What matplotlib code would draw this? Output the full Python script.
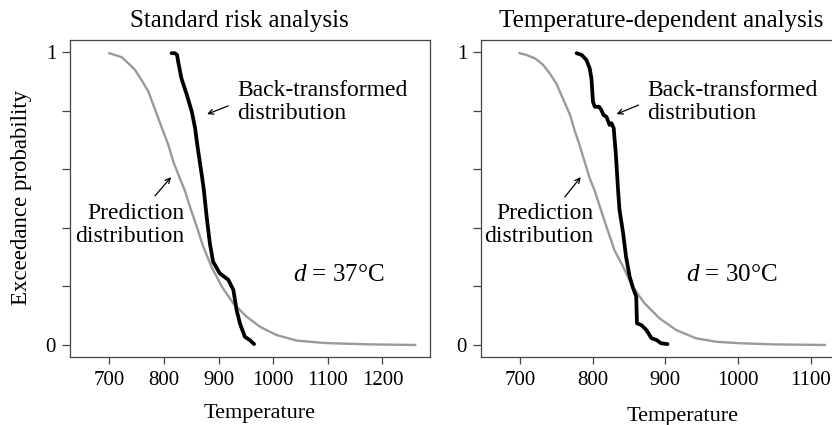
import matplotlib
matplotlib.use("Agg")
import matplotlib.pyplot as plt

plt.rcParams['font.family'] = ['Liberation Serif', 'DejaVu Serif']
plt.rcParams['mathtext.fontset'] = 'custom'
plt.rcParams['mathtext.rm'] = 'Liberation Serif'
plt.rcParams['mathtext.it'] = 'Liberation Serif:italic'

# ---- data ----
left_pred_x = [698, 710, 723, 735, 747, 759, 771.5, 780.6, 789.6, 798.8, 808, 817, 829, 838.5,
               847.6, 860, 872, 887, 906, 927, 951, 976, 1006, 1043, 1085, 1104, 1180, 1262]
left_pred_y = [0.997, 0.99, 0.982, 0.961, 0.939, 0.904, 0.865, 0.819, 0.774, 0.728, 0.683, 0.626,
               0.569, 0.526, 0.472, 0.404, 0.335, 0.267, 0.199, 0.142, 0.097, 0.062, 0.034, 0.015,
               0.008, 0.006, 0.002, 0.0]
left_back_x = [814, 820, 824, 826, 832, 842, 851, 857, 861, 866, 870, 873, 878, 884, 890, 902, 918,
               927, 933, 939, 948, 957, 965]
left_back_y = [0.996, 0.996, 0.99, 0.967, 0.91, 0.853, 0.796, 0.74, 0.683, 0.62, 0.57, 0.529, 0.44,
               0.347, 0.284, 0.245, 0.222, 0.188, 0.119, 0.074, 0.028, 0.017, 0.003]

right_pred_x = [698, 709, 721, 732, 741, 750, 759, 769, 775, 782, 789, 796, 803, 810, 819, 830, 842,
                855, 871.5, 892, 915, 942, 970, 1002, 1050, 1121]
right_pred_y = [0.997, 0.99, 0.978, 0.956, 0.927, 0.893, 0.842, 0.785, 0.734, 0.683, 0.626, 0.569,
                0.526, 0.472, 0.404, 0.324, 0.267, 0.199, 0.142, 0.091, 0.051, 0.023, 0.011, 0.006,
                0.002, 0.0]
right_back_x = [778, 785, 791.5, 796, 798.4, 800.5, 803, 809, 812, 815, 819, 823.4, 826, 829, 832,
                835, 837, 842, 846, 851, 855, 860, 861, 867, 874, 881, 888, 894, 903]
right_back_y = [0.996, 0.99, 0.973, 0.944, 0.91, 0.83, 0.813, 0.813, 0.802, 0.785, 0.779, 0.751,
                0.757, 0.74, 0.65, 0.529, 0.461, 0.381, 0.301, 0.233, 0.199, 0.165, 0.074, 0.068,
                0.051, 0.023, 0.017, 0.006, 0.003]

titles = ["Standard risk analysis", "Temperature-dependent analysis"]
d_labels = ["$d$ = 37°C", "$d$ = 30°C"]
left_xticks = [700, 800, 900, 1000, 1100, 1200]
right_xticks = [700, 800, 900, 1000, 1100]
yticks = [0, 0.2, 0.4, 0.6, 0.8, 1.0]
ytick_labels = ["0", "", "", "", "", "1"]

W, H = 832, 425
fig = plt.figure(figsize=(W / 100, H / 100), dpi=100)

def axrect(x0, y0, x1, y1):
    return [x0 / W, 1 - y1 / H, (x1 - x0) / W, (y1 - y0) / H]

def fpos(x, y):
    return (x / W, 1 - y / H)

spine_col = '#444444'
grey = '#9a9a9a'

axL = fig.add_axes(axrect(70, 40, 430, 357))
axR = fig.add_axes(axrect(481, 40, 842, 357))

panels = [
    (axL, left_pred_x, left_pred_y, left_back_x, left_back_y, left_xticks, (628, 1287)),
    (axR, right_pred_x, right_pred_y, right_back_x, right_back_y, right_xticks, (646.5, 1143)),
]

for ax, px, py, bx, by, xt, xl in panels:
    ax.plot(px, py, color=grey, lw=1.7, solid_joinstyle='round', solid_capstyle='butt')
    ax.plot(bx, by, color='black', lw=2.7, solid_joinstyle='round', solid_capstyle='round')
    ax.set_xlim(*xl)
    ax.set_ylim(-0.041, 1.041)
    ax.set_xticks(xt)
    ax.set_yticks(yticks)
    ax.set_yticklabels(ytick_labels)
    ax.tick_params(axis='both', direction='out', length=6, width=0.9, color=spine_col,
                   labelsize=15, pad=4)
    ax.tick_params(axis='x', length=5, pad=5)
    for s in ax.spines.values():
        s.set_color(spine_col)
        s.set_linewidth(0.9)

arrow = dict(arrowstyle='->', color='black', lw=0.9, shrinkA=0, shrinkB=0,
             mutation_scale=9)

# left annotations
axL.annotate('', xy=(879, 0.788), xytext=(917.5, 0.816), arrowprops=arrow)
axL.text(933.6, 0.829, "Back-transformed\ndistribution", fontsize=17, ha='left', va='center',
         linespacing=1.15)
axL.annotate('', xy=(812.9, 0.573), xytext=(783.7, 0.509), arrowprops=arrow)
axL.text(836.9, 0.41, "Prediction\ndistribution", fontsize=17, ha='right', va='center',
         multialignment='right', linespacing=1.15)
axL.text(1036, 0.239, d_labels[0], fontsize=18, ha='left', va='center')

# right annotations
axR.annotate('', xy=(833, 0.788), xytext=(863.2, 0.819), arrowprops=arrow)
axR.text(875.6, 0.829, "Back-transformed\ndistribution", fontsize=17, ha='left', va='center',
         linespacing=1.15)
axR.annotate('', xy=(783.7, 0.573), xytext=(761.7, 0.505), arrowprops=arrow)
axR.text(801.5, 0.41, "Prediction\ndistribution", fontsize=17, ha='right', va='center',
         multialignment='right', linespacing=1.15)
axR.text(929, 0.239, d_labels[1], fontsize=18, ha='left', va='center')

# titles and axis labels
fig.text(*fpos(239, 27), titles[0], fontsize=18, ha='center', va='baseline')
fig.text(*fpos(661, 27), titles[1], fontsize=18, ha='center', va='baseline')
fig.text(*fpos(260, 418), "Temperature", fontsize=16, ha='center', va='baseline')
fig.text(*fpos(683, 421), "Temperature", fontsize=16, ha='center', va='baseline')
fig.text(*fpos(22, 197), "Exceedance probability", fontsize=16.5, ha='center', va='center',
         rotation=90)

fig.savefig("out.png", dpi=100)
